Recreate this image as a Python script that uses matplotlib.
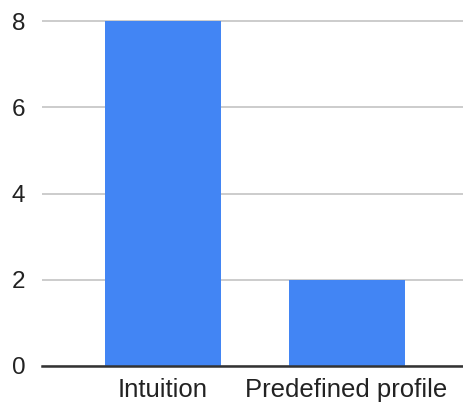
import matplotlib
matplotlib.use("Agg")
import matplotlib.pyplot as plt

categories = ["Intuition", "Predefined profile"]
counts = [8, 2]
y_ticks = [0, 2, 4, 6, 8]

plt.rcParams["font.family"] = ["Liberation Sans", "DejaVu Sans"]

fig = plt.figure(figsize=(4.64, 4.08), dpi=100)
ax = fig.add_axes([0.0905, 0.103, 0.9095, 0.856])

x = list(range(len(categories)))
ax.bar(x, counts, width=0.632, color="#4285F4", zorder=3)

ax.set_xlim(-0.659, 1.64)
ax.set_ylim(0, 8.1)
ax.set_yticks(y_ticks)
ax.set_xticks(x)
ax.set_xticklabels(categories)

ax.grid(axis="y", color="#cccccc", linewidth=1.4, zorder=0)
ax.set_axisbelow(True)
for side in ("top", "right", "left"):
    ax.spines[side].set_visible(False)
ax.spines["bottom"].set_color("#333333")
ax.spines["bottom"].set_linewidth(1.8)
ax.spines["bottom"].set_zorder(4)

ax.tick_params(axis="y", length=0, pad=12, labelsize=17.5, labelcolor="#222222")
ax.tick_params(axis="x", length=0, pad=9, labelsize=18.5, labelcolor="#222222")

fig.savefig("out.png", dpi=100)
